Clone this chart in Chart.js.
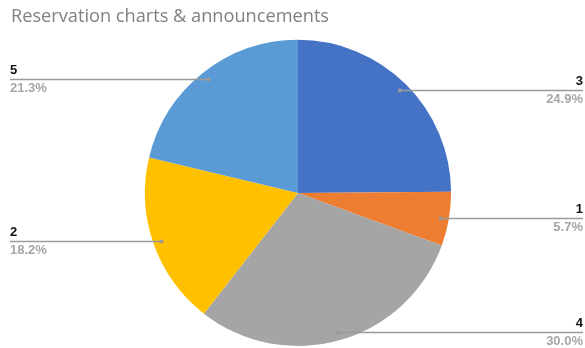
<!DOCTYPE html>
<html>
<head>
<meta charset="utf-8">
<script src="https://cdn.jsdelivr.net/npm/chart.js@4/dist/chart.umd.min.js"></script>
<style>
  html, body { margin: 0; padding: 0; background: #fff; }
  #wrap { width: 585px; height: 348px; }
</style>
</head>
<body>
<div id="wrap"><canvas id="pieChart" width="585" height="348"></canvas></div>
<script>
const categories = ["3", "1", "4", "2", "5"];
const shares = [24.9, 5.7, 30.0, 18.2, 21.3];
const sliceColors = ["#4472C4", "#ED7D31", "#A5A5A5", "#FFC000", "#5B9BD5"];

// leader lines with category name above and percentage below
const leaderLabels = {
  id: "leaderLabels",
  afterDatasetsDraw(chart) {
    const ctx = chart.ctx;
    const meta = chart.getDatasetMeta(0);
    meta.data.forEach((arc, i) => {
      const mid = (arc.startAngle + arc.endAngle) / 2;
      const r = arc.outerRadius * 0.945;
      const px = arc.x + Math.cos(mid) * r;
      const py = Math.round(arc.y + Math.sin(mid) * r) + 0.5;
      const right = Math.cos(mid) >= 0;
      const endX = right ? chart.width - 2 : 10;

      ctx.save();
      ctx.strokeStyle = "#9a9a9a";
      ctx.lineWidth = 1.5;
      ctx.beginPath();
      ctx.moveTo(px, py);
      ctx.lineTo(endX, py);
      ctx.stroke();
      ctx.fillStyle = "#9a9a9a";
      ctx.beginPath();
      ctx.arc(px, py, 2, 0, Math.PI * 2);
      ctx.fill();

      ctx.textAlign = right ? "right" : "left";
      ctx.textBaseline = "middle";
      ctx.fillStyle = "#111";
      ctx.font = "bold 13px 'Liberation Sans', Arial, sans-serif";
      ctx.fillText(categories[i], endX, py - 9);
      ctx.fillStyle = "#a6a6a6";
      ctx.font = "bold 13px 'Liberation Sans', Arial, sans-serif";
      ctx.fillText(shares[i].toFixed(1) + "%", endX, py + 9);
      ctx.restore();
    });
  }
};

new Chart(document.getElementById("pieChart"), {
  type: "pie",
  data: {
    labels: categories,
    datasets: [{
      data: shares,
      backgroundColor: sliceColors,
      borderWidth: 0
    }]
  },
  options: {
    responsive: false,
    animation: false,
    layout: { padding: { left: 11, right: 0, top: 0, bottom: 2 } },
    plugins: {
      legend: { display: false },
      tooltip: { enabled: false },
      title: {
        display: true,
        text: "Reservation charts & announcements",
        align: "start",
        color: "#808080",
        font: { family: "'Open Sans', sans-serif", size: 18.2, weight: "normal", lineHeight: 1.2 },
        padding: { top: 6, bottom: 12 }
      }
    }
  },
  plugins: [leaderLabels]
});
</script>
</body>
</html>
